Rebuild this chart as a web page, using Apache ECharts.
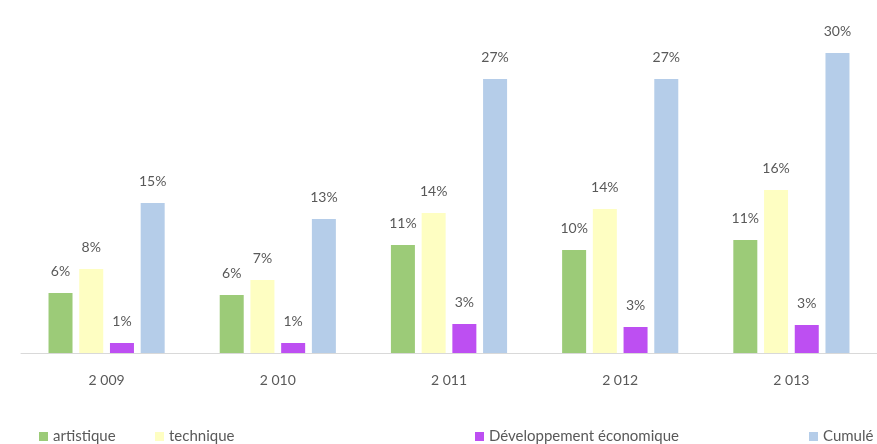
<!DOCTYPE html>
<html>
<head>
<meta charset="utf-8">
<script src="https://cdn.jsdelivr.net/npm/echarts@6/dist/echarts.min.js"></script>
<style>
  html, body { margin: 0; padding: 0; background: #fff; }
  #chart { width: 877px; height: 444px; }
</style>
</head>
<body>
<div id="chart"></div>
<script>
// années
var years = ['2 009', '2 010', '2 011', '2 012', '2 013'];

// valeurs en %
var artistique = [6.0, 5.8, 10.8, 10.3, 11.3];
var technique = [8.4, 7.3, 14.0, 14.4, 16.3];
var developpement = [1.0, 1.0, 2.9, 2.6, 2.8];
var cumule = [15.0, 13.4, 27.4, 27.4, 30.0];

var names = ['artistique', 'technique', 'Développement économique', 'Cumulé'];
var colors = ['#9ccb78', '#fefec2', '#bd4ff2', '#b5cde9'];
var font = 'Lato, "Open Sans", sans-serif';

var labelOpt = {
    show: true,
    position: 'top',
    distance: 15,
    color: '#595959',
    fontSize: 14,
    fontFamily: font,
    formatter: function (p) { return Math.round(p.value) + '%'; }
};

function makeSeries(i, data) {
    return {
        name: names[i],
        type: 'bar',
        data: data,
        barWidth: 24,
        barGap: '28%',
        itemStyle: { color: colors[i] },
        label: labelOpt
    };
}

function legendAt(i, left) {
    return {
        data: [names[i]],
        left: left,
        top: 424,
        itemWidth: 9,
        itemHeight: 9,
        itemGap: 4,
        icon: 'rect',
        textStyle: { color: '#595959', fontSize: 15, fontFamily: font }
    };
}

var chart = echarts.init(document.getElementById('chart'));
chart.setOption({
    backgroundColor: '#fff',
    animation: false,
    grid: { left: 21, right: -5, top: 53, bottom: 91 },
    legend: [
        legendAt(0, 34),
        legendAt(1, 150),
        legendAt(2, 470),
        legendAt(3, 804)
    ],
    xAxis: {
        type: 'category',
        data: years,
        axisLine: { lineStyle: { color: '#d9d9d9' } },
        axisTick: { show: false },
        axisLabel: { color: '#595959', fontSize: 14, fontFamily: font, margin: 20 }
    },
    yAxis: {
        type: 'value',
        min: 0,
        max: 30,
        show: false,
        splitLine: { show: false }
    },
    series: [
        makeSeries(0, artistique),
        makeSeries(1, technique),
        makeSeries(2, developpement),
        makeSeries(3, cumule)
    ]
});
</script>
</body>
</html>
